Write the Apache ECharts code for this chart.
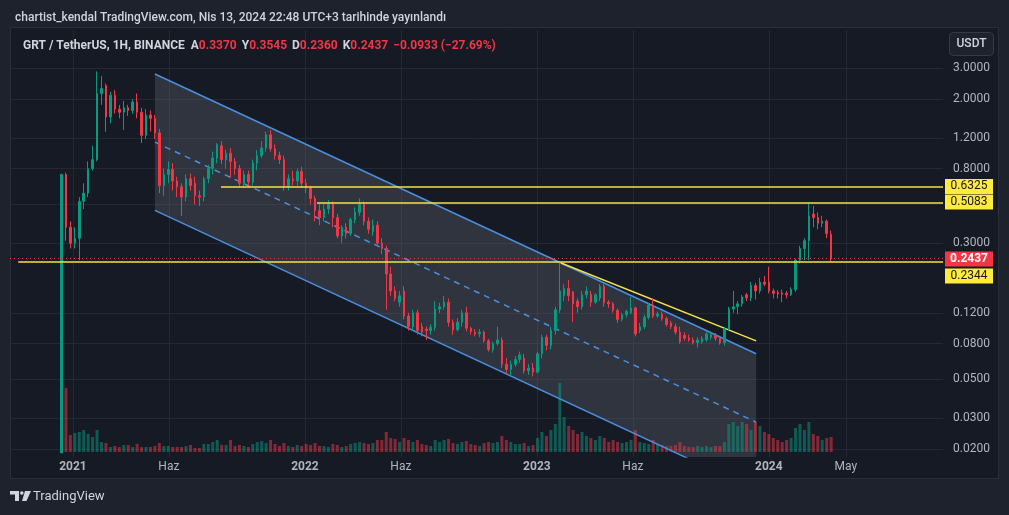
<!DOCTYPE html>
<html>
<head>
<meta charset="utf-8">
<script src="https://cdn.jsdelivr.net/npm/echarts@6/dist/echarts.min.js"></script>
</head>
<body style="margin:0;background:#1e222d">
<div id="container" style="width:1009px;height:515px"></div>
<script type="text/javascript">
    // weekly GRT / USDT candles, first week starts 2020-12-14
    var firstWeek = '2020-12-14';
    var opens = [0.019, 0.74, 0.37, 0.30, 0.32, 0.52, 0.58, 0.80, 0.90, 2.15, 2.39, 1.58, 2.10, 1.75, 1.68, 1.78, 1.72, 1.92, 1.68, 1.24,
        1.62, 1.55, 1.28, 0.64, 0.74, 0.79, 0.68, 0.63, 0.55, 0.70, 0.66, 0.56, 0.55, 0.70, 0.80, 0.92, 1.08, 0.90, 0.98, 0.88,
        0.80, 0.66, 0.74, 0.67, 0.86, 0.95, 1.05, 1.25, 1.04, 0.95, 0.90, 0.63, 0.70, 0.68, 0.77, 0.66, 0.62, 0.54, 0.46, 0.42,
        0.47, 0.50, 0.42, 0.33, 0.37, 0.34, 0.41, 0.45, 0.50, 0.40, 0.35, 0.38, 0.30, 0.28, 0.20, 0.16, 0.138, 0.16, 0.115, 0.10,
        0.12, 0.10, 0.097, 0.095, 0.099, 0.126, 0.13, 0.138, 0.106, 0.096, 0.106, 0.12, 0.098, 0.093, 0.091, 0.093, 0.083, 0.074, 0.08, 0.084,
        0.061, 0.057, 0.061, 0.065, 0.066, 0.056, 0.058, 0.055, 0.070, 0.087, 0.078, 0.095, 0.125, 0.15, 0.165, 0.158, 0.14, 0.13, 0.152, 0.153,
        0.138, 0.146, 0.17, 0.138, 0.135, 0.124, 0.11, 0.117, 0.12, 0.128, 0.095, 0.10, 0.113, 0.133, 0.115, 0.118, 0.111, 0.105, 0.10, 0.093,
        0.089, 0.086, 0.084, 0.081, 0.082, 0.084, 0.087, 0.089, 0.086, 0.081, 0.097, 0.126, 0.13, 0.135, 0.152, 0.146, 0.172, 0.16, 0.18, 0.18,
        0.16, 0.157, 0.156, 0.155, 0.153, 0.163, 0.24, 0.28, 0.31, 0.44, 0.42, 0.39, 0.40, 0.337];
    var highs = [0.75, 0.76, 0.40, 0.37, 0.55, 0.66, 0.88, 1.08, 2.88, 2.70, 2.45, 2.20, 2.25, 1.85, 1.95, 1.85, 2.00, 2.15, 1.78, 1.75,
        1.72, 1.62, 1.35, 0.80, 0.88, 0.86, 0.72, 0.66, 0.74, 0.75, 0.72, 0.60, 0.72, 0.84, 1.00, 1.12, 1.15, 1.03, 1.05, 0.92,
        0.84, 0.78, 0.78, 0.90, 1.02, 1.15, 1.30, 1.33, 1.10, 1.00, 0.95, 0.74, 0.78, 0.80, 0.82, 0.70, 0.64, 0.56, 0.50, 0.50,
        0.53, 0.52, 0.44, 0.38, 0.39, 0.42, 0.48, 0.54, 0.52, 0.42, 0.41, 0.40, 0.32, 0.29, 0.22, 0.17, 0.16, 0.17, 0.12, 0.125,
        0.125, 0.105, 0.10, 0.103, 0.14, 0.137, 0.15, 0.145, 0.11, 0.112, 0.125, 0.13, 0.10, 0.097, 0.097, 0.095, 0.085, 0.082, 0.10, 0.087,
        0.066, 0.064, 0.068, 0.072, 0.07, 0.061, 0.062, 0.072, 0.09, 0.09, 0.10, 0.13, 0.235, 0.175, 0.185, 0.16, 0.145, 0.16, 0.17, 0.16,
        0.155, 0.175, 0.175, 0.142, 0.138, 0.127, 0.12, 0.125, 0.148, 0.13, 0.105, 0.117, 0.137, 0.145, 0.122, 0.122, 0.114, 0.108, 0.104, 0.10,
        0.093, 0.09, 0.087, 0.087, 0.088, 0.093, 0.094, 0.092, 0.088, 0.10, 0.13, 0.16, 0.14, 0.152, 0.156, 0.18, 0.178, 0.19, 0.195, 0.22,
        0.165, 0.162, 0.163, 0.16, 0.168, 0.245, 0.29, 0.32, 0.51, 0.49, 0.45, 0.43, 0.41, 0.3545];
    var lows = [0.019, 0.31, 0.28, 0.28, 0.24, 0.47, 0.55, 0.78, 0.88, 1.85, 1.30, 1.45, 1.65, 1.55, 1.33, 1.60, 1.65, 1.55, 1.12, 1.18,
        1.30, 1.18, 0.58, 0.56, 0.66, 0.60, 0.55, 0.43, 0.52, 0.60, 0.50, 0.49, 0.52, 0.66, 0.74, 0.86, 0.85, 0.80, 0.71, 0.74,
        0.63, 0.62, 0.62, 0.64, 0.78, 0.92, 1.00, 1.00, 0.90, 0.85, 0.60, 0.60, 0.64, 0.64, 0.62, 0.58, 0.50, 0.40, 0.38, 0.40,
        0.44, 0.37, 0.32, 0.30, 0.32, 0.33, 0.39, 0.43, 0.38, 0.34, 0.33, 0.29, 0.26, 0.125, 0.15, 0.14, 0.13, 0.11, 0.095, 0.095,
        0.09, 0.088, 0.084, 0.090, 0.095, 0.12, 0.125, 0.10, 0.09, 0.094, 0.10, 0.094, 0.09, 0.088, 0.087, 0.081, 0.072, 0.071, 0.078, 0.058,
        0.054, 0.052, 0.059, 0.062, 0.054, 0.053, 0.052, 0.054, 0.066, 0.073, 0.074, 0.09, 0.12, 0.14, 0.14, 0.106, 0.12, 0.125, 0.145, 0.13,
        0.135, 0.14, 0.13, 0.128, 0.12, 0.105, 0.107, 0.113, 0.118, 0.088, 0.092, 0.097, 0.11, 0.112, 0.112, 0.108, 0.10, 0.097, 0.09, 0.08,
        0.083, 0.082, 0.079, 0.076, 0.08, 0.082, 0.084, 0.083, 0.079, 0.078, 0.095, 0.12, 0.118, 0.13, 0.14, 0.14, 0.143, 0.155, 0.17, 0.155,
        0.145, 0.145, 0.138, 0.145, 0.15, 0.158, 0.23, 0.24, 0.24, 0.37, 0.36, 0.37, 0.32, 0.236];
    var closes = [0.74, 0.37, 0.30, 0.32, 0.52, 0.58, 0.80, 0.90, 2.15, 2.30, 1.58, 2.10, 1.75, 1.68, 1.78, 1.72, 1.92, 1.68, 1.24, 1.62,
        1.55, 1.28, 0.64, 0.74, 0.79, 0.68, 0.63, 0.55, 0.70, 0.64, 0.56, 0.55, 0.70, 0.80, 0.92, 1.10, 0.90, 0.98, 0.88, 0.80,
        0.66, 0.74, 0.67, 0.86, 0.95, 1.05, 1.25, 1.04, 0.95, 0.90, 0.63, 0.70, 0.68, 0.77, 0.66, 0.62, 0.54, 0.46, 0.42, 0.47,
        0.50, 0.42, 0.33, 0.37, 0.34, 0.41, 0.45, 0.50, 0.40, 0.36, 0.38, 0.30, 0.28, 0.20, 0.16, 0.145, 0.15, 0.115, 0.10, 0.12,
        0.095, 0.093, 0.095, 0.099, 0.126, 0.13, 0.138, 0.106, 0.096, 0.106, 0.12, 0.098, 0.094, 0.091, 0.093, 0.083, 0.074, 0.08, 0.084, 0.061,
        0.057, 0.061, 0.065, 0.069, 0.056, 0.058, 0.055, 0.070, 0.087, 0.078, 0.095, 0.125, 0.16, 0.165, 0.15, 0.135, 0.13, 0.152, 0.16, 0.138,
        0.152, 0.17, 0.137, 0.135, 0.124, 0.11, 0.117, 0.122, 0.128, 0.091, 0.10, 0.113, 0.133, 0.115, 0.118, 0.111, 0.103, 0.10, 0.093, 0.082,
        0.086, 0.084, 0.081, 0.084, 0.086, 0.091, 0.09, 0.086, 0.081, 0.097, 0.126, 0.13, 0.135, 0.148, 0.146, 0.172, 0.16, 0.18, 0.175, 0.16,
        0.155, 0.154, 0.153, 0.152, 0.163, 0.24, 0.28, 0.31, 0.43, 0.42, 0.39, 0.40, 0.34, 0.2437];
    // volume, relative units
    var volumes = [34, 64, 17, 19, 20, 22, 18, 15, 22, 10, 9, 5, 6, 5, 7, 7, 5, 8, 5, 5,
        5, 6, 9, 6, 6, 5, 5, 5, 6, 7, 4, 4, 8, 8, 10, 12, 7, 7, 12, 6,
        7, 6, 5, 8, 10, 11, 9, 12, 8, 6, 9, 6, 5, 7, 6, 8, 7, 9, 6, 6,
        5, 8, 7, 5, 6, 8, 9, 10, 9, 8, 9, 12, 12, 20, 14, 13, 10, 14, 12, 10,
        12, 8, 7, 6, 12, 10, 12, 13, 9, 8, 10, 11, 8, 7, 6, 9, 10, 9, 10, 16,
        12, 10, 8, 8, 9, 6, 7, 14, 20, 16, 22, 28, 69, 35, 26, 22, 18, 20, 16, 14,
        12, 16, 14, 10, 12, 10, 9, 10, 12, 22, 10, 9, 8, 12, 8, 7, 6, 6, 7, 10,
        6, 5, 5, 6, 5, 6, 5, 6, 6, 10, 28, 30, 26, 30, 28, 22, 30, 26, 20, 18,
        14, 12, 10, 12, 14, 24, 28, 22, 30, 18, 16, 12, 14, 15];

    var priceTicks = [3, 2, 1.2, 0.8, 0.5, 0.3, 0.12, 0.08, 0.05, 0.03, 0.02];
    var timeTicks = ['2021-01-01', '2021-06-01', '2022-01-01', '2022-06-01', '2023-01-01', '2023-06-01', '2024-01-01', '2024-05-01'];
    var monthNames = ['Oca', 'Şub', 'Mar', 'Nis', 'May', 'Haz', 'Tem', 'Ağu', 'Eyl', 'Eki', 'Kas', 'Ara'];
    var timeRange = ['2020-09-24', '2024-10-01'];
    var priceRange = [0.018, 4.958];

    // drawings
    var levelValues = [0.6325, 0.5083, 0.2344];
    var levelStarts = ['2021-08-22', '2022-01-20', '2020-10-07'];
    var lastPrice = 0.2437;
    var channelDates = ['2021-05-10', '2023-12-12'];
    var channelUpper = [2.78, 0.070];
    var channelMiddle = [1.133, 0.0285];
    var channelLower = [0.462, 0.01163];
    var trendDates = ['2023-02-08', '2023-12-12'];
    var trendValues = [0.231, 0.0829];

    var UP = '#089981', DOWN = '#f23645', YELLOW = '#f2e24a', BLUE = '#4a8fe0';
    var FONT = 'Roboto, "Noto Sans", sans-serif';
    var lg = Math.log10;
    var ts = function (s) { return Date.parse(s); };
    var DAY = 86400000;

    var dates = [];
    for (var i = 0; i < opens.length; i++) dates.push(ts(firstWeek) + i * 7 * DAY);

    var candles = dates.map(function (d, i) {
        return [d, lg(opens[i]), lg(closes[i]), lg(lows[i]), lg(highs[i])];
    });
    var vols = dates.map(function (d, i) {
        return {
            value: [d, volumes[i]],
            itemStyle: {color: closes[i] >= opens[i] ? 'rgba(8,153,129,0.5)' : 'rgba(242,54,69,0.5)'}
        };
    });

    var xMin = ts(timeRange[0]), xMax = ts(timeRange[1]);
    var yMin = lg(priceRange[0]), yMax = lg(priceRange[1]);

    var levelLines = levelValues.map(function (v, i) {
        return [{coord: [ts(levelStarts[i]), lg(v)]}, {coord: [xMax, lg(v)]}];
    });
    levelLines.push({yAxis: lg(lastPrice), lineStyle: {color: DOWN, type: [1, 3], width: 1}});

    function box(v, color, textColor, dy) {
        return {
            coord: [xMax, lg(v)], symbol: 'rect', symbolSize: [48, 15], symbolOffset: [26, dy],
            itemStyle: {color: color},
            label: {show: true, position: 'inside', formatter: v.toFixed(4), color: textColor,
                fontSize: 12, fontFamily: FONT, fontWeight: color === DOWN ? 'bold' : 'normal'}
        };
    }

    function segment(dts, vals) {
        return [[ts(dts[0]), lg(vals[0])], [ts(dts[1]), lg(vals[1])]];
    }

    var dom = document.getElementById('container');
    var myChart = echarts.init(dom);
    var option = {
        animation: false,
        backgroundColor: '#1e222d',
        title: [{
            left: 10, top: 7,
            text: 'chartist_kendal TradingView.com, Nis 13, 2024 22:48 UTC+3 tarihinde yayınlandı',
            textStyle: {color: '#d1d4dc', fontSize: 12, fontWeight: 500, fontFamily: FONT}
        }, {
            left: 18, top: 35,
            text: '{n|GRT / TetherUS, 1H, BINANCE}  {n|A}{r|0.3370} {n|Y}{r|0.3545} {n|D}{r|0.2360} {n|K}{r|0.2437} {r|−0.0933 (−27.69%)}',
            textStyle: {
                fontSize: 12, fontFamily: FONT,
                rich: {
                    n: {color: '#d1d4dc', fontSize: 12, fontFamily: FONT},
                    r: {color: DOWN, fontSize: 12, fontFamily: FONT, padding: [0, 2, 0, 0]}
                }
            }
        }],
        graphic: [
            {type: 'rect', z: -100, silent: true, shape: {x: 10.5, y: 27.5, width: 988, height: 451},
                style: {fill: '#161a25', stroke: '#2a2e39', lineWidth: 1}},
            {type: 'rect', z: 100, shape: {x: 949.5, y: 32.5, width: 44, height: 23, r: 4},
                style: {fill: '#1e222d', stroke: '#363a45', lineWidth: 1}},
            {type: 'text', z: 101, x: 971.5, y: 44, style: {text: 'USDT', fill: '#d1d4dc', font: '500 12px ' + FONT,
                    align: 'center', verticalAlign: 'middle'}},
            {type: 'polygon', z: 100, shape: {points: [[10, 491], [19, 491], [19, 501], [15, 501], [15, 494.5], [10, 494.5]]},
                style: {fill: '#d1d4dc'}},
            {type: 'circle', z: 100, shape: {cx: 21.8, cy: 493, r: 1.8}, style: {fill: '#d1d4dc'}},
            {type: 'polygon', z: 100, shape: {points: [[25, 491], [31, 491], [26.5, 501], [22, 501]]},
                style: {fill: '#d1d4dc'}},
            {type: 'text', z: 100, x: 33, y: 496.5, style: {text: 'TradingView', fill: '#d1d4dc', font: '13px ' + FONT,
                    verticalAlign: 'middle'}}
        ],
        grid: [
            {left: 10, right: 66, top: 30, bottom: 58},
            {left: 10, right: 66, bottom: 63, height: 100}
        ],
        xAxis: [{
            type: 'value', gridIndex: 0, min: xMin, max: xMax,
            axisLine: {show: false},
            axisTick: {show: false, customValues: timeTicks.map(ts)},
            splitLine: {show: true, lineStyle: {color: '#242834', width: 1}},
            axisLabel: {
                customValues: timeTicks.map(ts), color: '#b2b5be', fontSize: 12, fontFamily: FONT, margin: 4,
                formatter: function (v) {
                    var d = new Date(v);
                    return d.getUTCMonth() === 0 ? '{y|' + d.getUTCFullYear() + '}' : monthNames[d.getUTCMonth()];
                },
                rich: {y: {color: '#b2b5be', fontSize: 12, fontWeight: 'bold', fontFamily: FONT}}
            }
        }, {
            type: 'value', gridIndex: 1, min: xMin, max: xMax, show: false, splitLine: {show: false}
        }],
        yAxis: [{
            type: 'value', gridIndex: 0, position: 'right', min: yMin, max: yMax,
            axisLine: {show: false},
            axisTick: {show: false, customValues: priceTicks.map(lg)},
            splitLine: {show: true, lineStyle: {color: '#242834', width: 1}},
            axisLabel: {
                customValues: priceTicks.map(lg), color: '#b2b5be', fontSize: 12, fontFamily: FONT, margin: 10,
                formatter: function (v) { return Math.pow(10, v).toFixed(4); }
            }
        }, {
            type: 'value', gridIndex: 1, min: 0, max: 100, show: false, splitLine: {show: false}
        }],
        series: [
            { // channel fill
                type: 'custom', xAxisIndex: 0, yAxisIndex: 0, silent: true, z: 1,
                data: [[ts(channelDates[0]), lg(channelUpper[0])]],
                renderItem: function (params, api) {
                    var ta = ts(channelDates[0]), tb = ts(channelDates[1]);
                    var l0 = lg(channelLower[0]), l1 = lg(channelLower[1]);
                    var tCut = ta + (yMin - l0) / (l1 - l0) * (tb - ta);
                    var pts = [[ta, lg(channelUpper[0])], [tb, lg(channelUpper[1])], [tb, yMin], [tCut, yMin], [ta, l0]]
                        .map(function (p) { return api.coord(p); });
                    return {type: 'polygon', shape: {points: pts}, style: {fill: 'rgba(120,123,134,0.28)'}};
                }
            },
            {
                type: 'bar', xAxisIndex: 1, yAxisIndex: 1, barWidth: 3, z: 2, silent: true,
                data: vols
            },
            {
                type: 'line', symbol: 'none', silent: true, z: 3, clip: true,
                data: segment(channelDates, channelUpper), lineStyle: {color: BLUE, width: 1.5}
            },
            {
                type: 'line', symbol: 'none', silent: true, z: 3, clip: true,
                data: segment(channelDates, channelLower), lineStyle: {color: BLUE, width: 1.5}
            },
            {
                type: 'line', symbol: 'none', silent: true, z: 3, clip: true,
                data: segment(channelDates, channelMiddle), lineStyle: {color: BLUE, width: 1.5, type: [6, 5]}
            },
            {
                type: 'line', symbol: 'none', silent: true, z: 3, clip: true,
                data: segment(trendDates, trendValues), lineStyle: {color: YELLOW, width: 1.5}
            },
            {
                type: 'candlestick', xAxisIndex: 0, yAxisIndex: 0, z: 4, barWidth: 2,
                encode: {x: 0, y: [1, 2, 3, 4]},
                itemStyle: {color: UP, color0: DOWN, borderColor: UP, borderColor0: DOWN, borderWidth: 1},
                data: candles,
                markLine: {
                    silent: true, symbol: 'none', animation: false,
                    label: {show: false},
                    lineStyle: {color: YELLOW, width: 1.5, type: 'solid'},
                    data: levelLines
                },
                markPoint: {
                    silent: true, animation: false,
                    data: [
                        box(0.6325, '#ffeb3b', '#131722', 0),
                        box(0.5083, '#ffeb3b', '#131722', -1),
                        box(lastPrice, DOWN, '#ffffff', 0),
                        box(0.2344, '#ffeb3b', '#131722', 14)
                    ]
                }
            }
        ]
    };
    myChart.setOption(option, true);
</script>
</body>
</html>
